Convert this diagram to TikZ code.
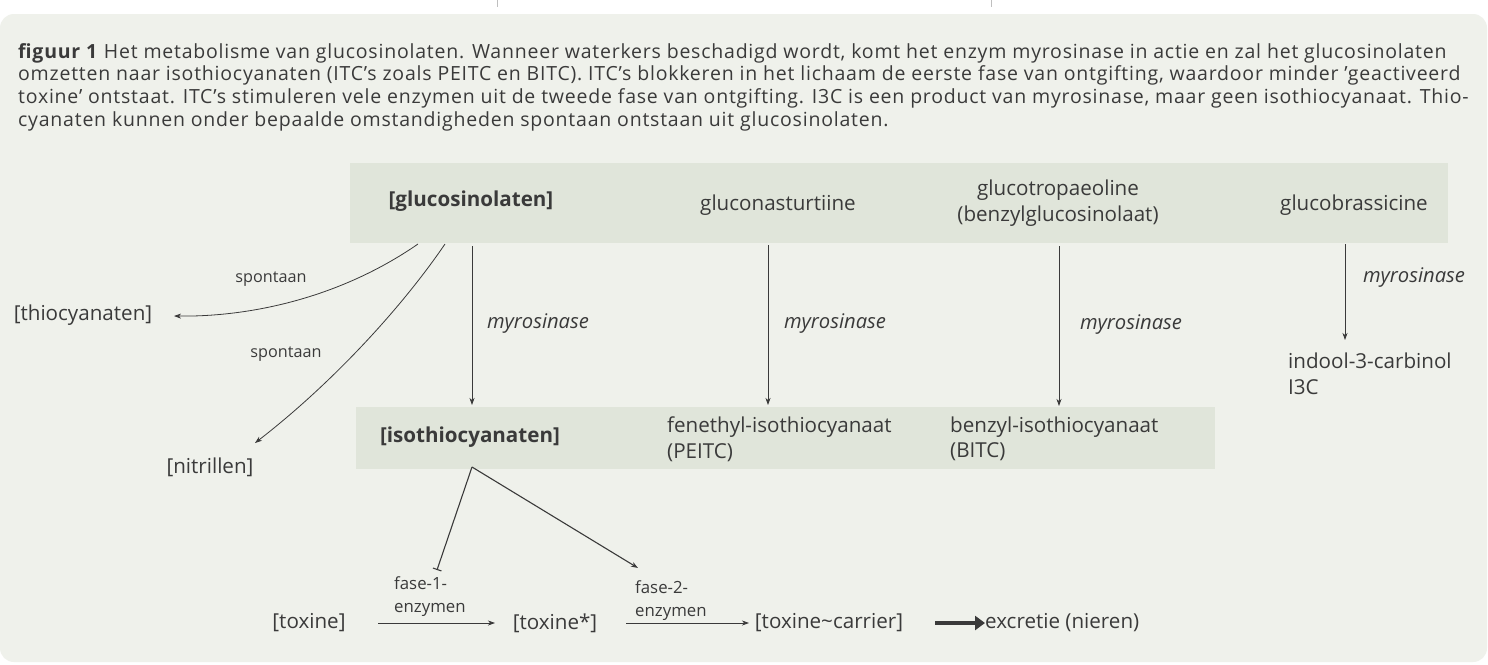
\documentclass[tikz,border=0pt]{standalone}
\usepackage{fontspec}
\setmainfont{Open Sans}
\newfontfamily\capfont{Open Sans}[LetterSpace=4.0]
\usetikzlibrary{arrows.meta}
\definecolor{panel}{HTML}{EFF1EB}
\definecolor{boxc}{HTML}{E0E5DA}
\definecolor{ink}{HTML}{3A3A3A}
\tikzset{
  lbl/.style={inner sep=0pt, text=ink, font=\fontsize{20.6}{24}\selectfont},
  bld/.style={lbl, font=\fontsize{20.6}{24}\selectfont\bfseries},
  ml/.style={lbl, align=left, font=\fontsize{20.6}{25.5}\selectfont},
  enz/.style={lbl, font=\fontsize{20.2}{24}\selectfont\itshape},
  small/.style={inner sep=0pt, text=ink, font=\fontsize{16.2}{17}\selectfont},
  smallml/.style={small, align=left, font=\fontsize{16.8}{23}\selectfont},
  conn/.style={draw=ink, line width=0.8pt, -{Stealth[length=7pt,width=5pt,inset=2pt]}},
  inhib/.style={draw=ink, line width=1.1pt, -{Bar[width=9pt,line width=1.1pt]}},
  boxfill/.style={fill=boxc, draw=none},
}
\begin{document}
\begin{tikzpicture}[x=1pt,y=-1pt]
\useasboundingbox (0,0) rectangle (1488,664);
\fill[white] (0,0) rectangle (1488,664);
\draw[gray!50, line width=0.8pt] (497,0) -- (497,7);
\draw[gray!50, line width=0.8pt] (991,0) -- (991,7);
\fill[panel, rounded corners=14pt] (0,14) rectangle (1487,662);

% caption
\node[anchor=north west, inner sep=0pt, text=ink, align=left,
      font=\capfont\fontsize{19.5}{22.7}\selectfont] (cap) at (18,43)
{\textbf{figuur 1} Het metabolisme van glucosinolaten. Wanneer waterkers beschadigd wordt, komt het enzym myrosinase in actie en zal het glucosinolaten\\
omzetten naar isothiocyanaten (ITC’s zoals PEITC en BITC). ITC’s blokkeren in het lichaam de eerste fase van ontgifting, waardoor minder ’geactiveerd\\
toxine’ ontstaat. ITC’s stimuleren vele enzymen uit de tweede fase van ontgifting. I3C is een product van myrosinase, maar geen isothiocyanaat. Thio-\\
cyanaten kunnen onder bepaalde omstandigheden spontaan ontstaan uit glucosinolaten.};

% boxes
\path[boxfill] (350,163) rectangle (1448,243);
\path[boxfill] (356,407) rectangle (1215,469);

% top row
\node[bld] (gluc) at (471,201) {[glucosinolaten]};
\node[lbl] (nast) at (778,205) {gluconasturtiine};
\node[lbl, align=center, font=\fontsize{20.6}{25.5}\selectfont] (trop) at (1058,203) {glucotropaeoline\\(benzylglucosinolaat)};
\node[lbl] (bras) at (1354,205) {glucobrassicine};

% left products
\node[lbl] (thio) at (83,315) {[thiocyanaten]};
\node[lbl] (nitr) at (210,467) {[nitrillen]};
\node[small] (sp1) at (271,279) {spontaan};
\node[small] (sp2) at (286,354) {spontaan};

% second row
\node[bld] (iso) at (470,437) {[isothiocyanaten]};
\node[ml, anchor=west] (peitc) at (667,439) {fenethyl-isothiocyanaat\\(PEITC)};
\node[ml, anchor=west] (bitc) at (950,439) {benzyl-isothiocyanaat\\(BITC)};
\node[ml, anchor=west] (i3c) at (1288,374) {indool-3-carbinol\\I3C};

% enzyme labels
\node[enz] (m1) at (538,324) {myrosinase};
\node[enz] (m2) at (835,324) {myrosinase};
\node[enz] (m3) at (1131,325) {myrosinase};
\node[enz] (m4) at (1414,278) {myrosinase};

% connector end points
\coordinate (g1) at (472,246);
\coordinate (i1) at (472,405);
\coordinate (n1) at (768,245);
\coordinate (p1) at (768,405);
\coordinate (t1) at (1059,246);
\coordinate (b1) at (1059,406);
\coordinate (r1) at (1345,244);
\coordinate (c1) at (1345,340);
\coordinate (gs1) at (418,244);
\coordinate (gs2) at (445,244);
\coordinate (th1) at (174,316);
\coordinate (ni1) at (255,443);

\draw[conn] (g1) -- (i1);
\draw[conn] (n1) -- (p1);
\draw[conn] (t1) -- (b1);
\draw[conn] (r1) -- (c1);
\draw[conn] (gs1) .. controls (340,298) and (250,317) .. (th1);
\draw[conn] (gs2) .. controls (400,310) and (330,385) .. (ni1);

% bottom chain
\node[lbl] (tox) at (309,623) {[toxine]};
\node[lbl] (toxs) at (555,623) {[toxine*]};
\node[lbl] (toxc) at (829,623) {[toxine\textasciitilde carrier]};
\node[lbl, anchor=west] (excr) at (985,623) {excretie (nieren)};
\node[smallml, anchor=south west] (f1) at (394,617) {fase-1-\\enzymen};
\node[smallml, anchor=south west] (f2) at (635,621) {fase-2-\\enzymen};

\coordinate (apex) at (472,467);
\coordinate (bar) at (437,570);
\coordinate (ar2) at (638,568);
\draw[inhib] (apex) -- (bar);
\draw[conn, line width=1.1pt] (apex) -- (ar2);

\coordinate (a1s) at (378,623);
\coordinate (a1e) at (495,623);
\coordinate (a2s) at (626,623);
\coordinate (a2e) at (749,623);
\coordinate (a3s) at (935,623);
\draw[conn] (a1s) -- (a1e);
\draw[conn] (a2s) -- (a2e);
\draw[draw=ink, line width=4pt, -{Triangle[length=10pt,width=14pt]}] (a3s) -- (excr.west);
\end{tikzpicture}
\end{document}
